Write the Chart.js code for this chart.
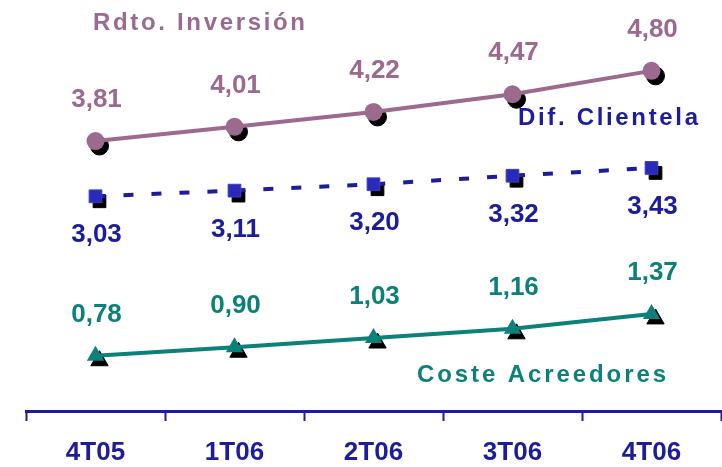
<!DOCTYPE html>
<html>
<head>
<meta charset="utf-8">
<script src="https://cdn.jsdelivr.net/npm/chart.js@4.4.1/dist/chart.umd.min.js"></script>
<style>
  html, body { margin: 0; padding: 0; background: #fff; }
  #wrap { width: 722px; height: 467px; position: relative; }
</style>
</head>
<body>
<div id="wrap"><canvas id="chart"></canvas></div>
<script>
const quarters = ['4T05', '1T06', '2T06', '3T06', '4T06'];
const rdtoInversion = [3.81, 4.01, 4.22, 4.47, 4.80];
const difClientela = [3.03, 3.11, 3.20, 3.32, 3.43];
const costeAcreedores = [0.78, 0.90, 1.03, 1.16, 1.37];

const MAUVE = '#9b6a8e';
const BLUE = '#1c1c9c';
const TEAL = '#0b8179';
const FONT = 'Arial, "Liberation Sans", sans-serif';

// black offset copies of the markers, drawn under everything
const markerShadow = {
  id: 'markerShadow',
  beforeDatasetsDraw(chart) {
    const ctx = chart.ctx;
    chart.data.datasets.forEach((ds, i) => {
      const meta = chart.getDatasetMeta(i);
      ctx.save();
      ctx.fillStyle = '#000';
      ctx.strokeStyle = '#000';
      meta.data.forEach(pt => {
        Chart.helpers.drawPoint(ctx, {
          pointStyle: ds.pointStyle,
          radius: ds.pointRadius,
          rotation: 0,
          borderWidth: 1
        }, pt.x + 4, pt.y + 5);
      });
      ctx.restore();
    });
  }
};

// value labels + series names
const valueLabels = {
  id: 'valueLabels',
  afterDatasetsDraw(chart) {
    const ctx = chart.ctx;
    ctx.save();
    ctx.textAlign = 'center';
    ctx.textBaseline = 'alphabetic';
    ctx.font = 'bold 26px ' + FONT;
    chart.data.datasets.forEach((ds, i) => {
      const meta = chart.getDatasetMeta(i);
      ctx.fillStyle = ds.borderColor;
      meta.data.forEach((pt, j) => {
        const txt = ds.data[j].toFixed(2).replace('.', ',');
        ctx.fillText(txt, pt.x + 1, pt.y + ds.labelDy);
      });
    });

    // series names, spaced out like the original
    const names = [
      { text: 'Rdto. Inversión', x: 93, y: 30, w: 212, color: MAUVE },
      { text: 'Dif. Clientela', x: 518, y: 125, w: 180, color: BLUE },
      { text: 'Coste Acreedores', x: 417, y: 382, w: 249, color: TEAL }
    ];
    ctx.textAlign = 'left';
    ctx.font = 'bold 24px ' + FONT;
    names.forEach(n => {
      ctx.fillStyle = n.color;
      const chars = [...n.text];
      const raw = ctx.measureText(n.text).width;
      const gap = (n.w - raw) / (chars.length - 1);
      let x = n.x;
      chars.forEach(c => {
        ctx.fillText(c, x, n.y);
        x += ctx.measureText(c).width + gap;
      });
    });
    ctx.restore();
  }
};

new Chart(document.getElementById('chart'), {
  type: 'line',
  data: {
    labels: quarters,
    datasets: [
      {
        label: 'Rdto. Inversión',
        data: rdtoInversion,
        borderColor: MAUVE,
        backgroundColor: MAUVE,
        borderWidth: 4,
        pointStyle: 'circle',
        pointRadius: 9,
        pointBorderWidth: 0,
        labelDy: -34
      },
      {
        label: 'Dif. Clientela',
        data: difClientela,
        borderColor: BLUE,
        backgroundColor: '#2a2ab8',
        pointBorderColor: '#3c3cd0',
        borderWidth: 4,
        borderDash: [10, 18],
        pointStyle: 'rect',
        pointRadius: 9,
        pointBorderWidth: 1,
        labelDy: 46
      },
      {
        label: 'Coste Acreedores',
        data: costeAcreedores,
        borderColor: TEAL,
        backgroundColor: TEAL,
        borderWidth: 4,
        pointStyle: 'triangle',
        pointRadius: 10,
        pointBorderWidth: 0,
        labelDy: -34
      }
    ]
  },
  options: {
    responsive: true,
    maintainAspectRatio: false,
    animation: false,
    layout: { autoPadding: false, padding: { left: 26, right: 1, top: 0, bottom: 0 } },
    plugins: {
      legend: { display: false },
      tooltip: { enabled: false }
    },
    scales: {
      y: {
        display: false,
        min: 0,
        max: 5.8
      },
      x: {
        offset: true,
        afterFit(scale) { scale.height = 56; },
        border: { display: true, color: BLUE, width: 3 },
        grid: {
          offset: true,
          drawOnChartArea: false,
          drawTicks: true,
          tickLength: 10,
          tickWidth: 2,
          tickColor: BLUE
        },
        ticks: {
          color: BLUE,
          padding: 16,
          font: { family: FONT, size: 26, weight: 'bold' },
          maxRotation: 0
        }
      }
    }
  },
  plugins: [markerShadow, valueLabels]
});
</script>
</body>
</html>
